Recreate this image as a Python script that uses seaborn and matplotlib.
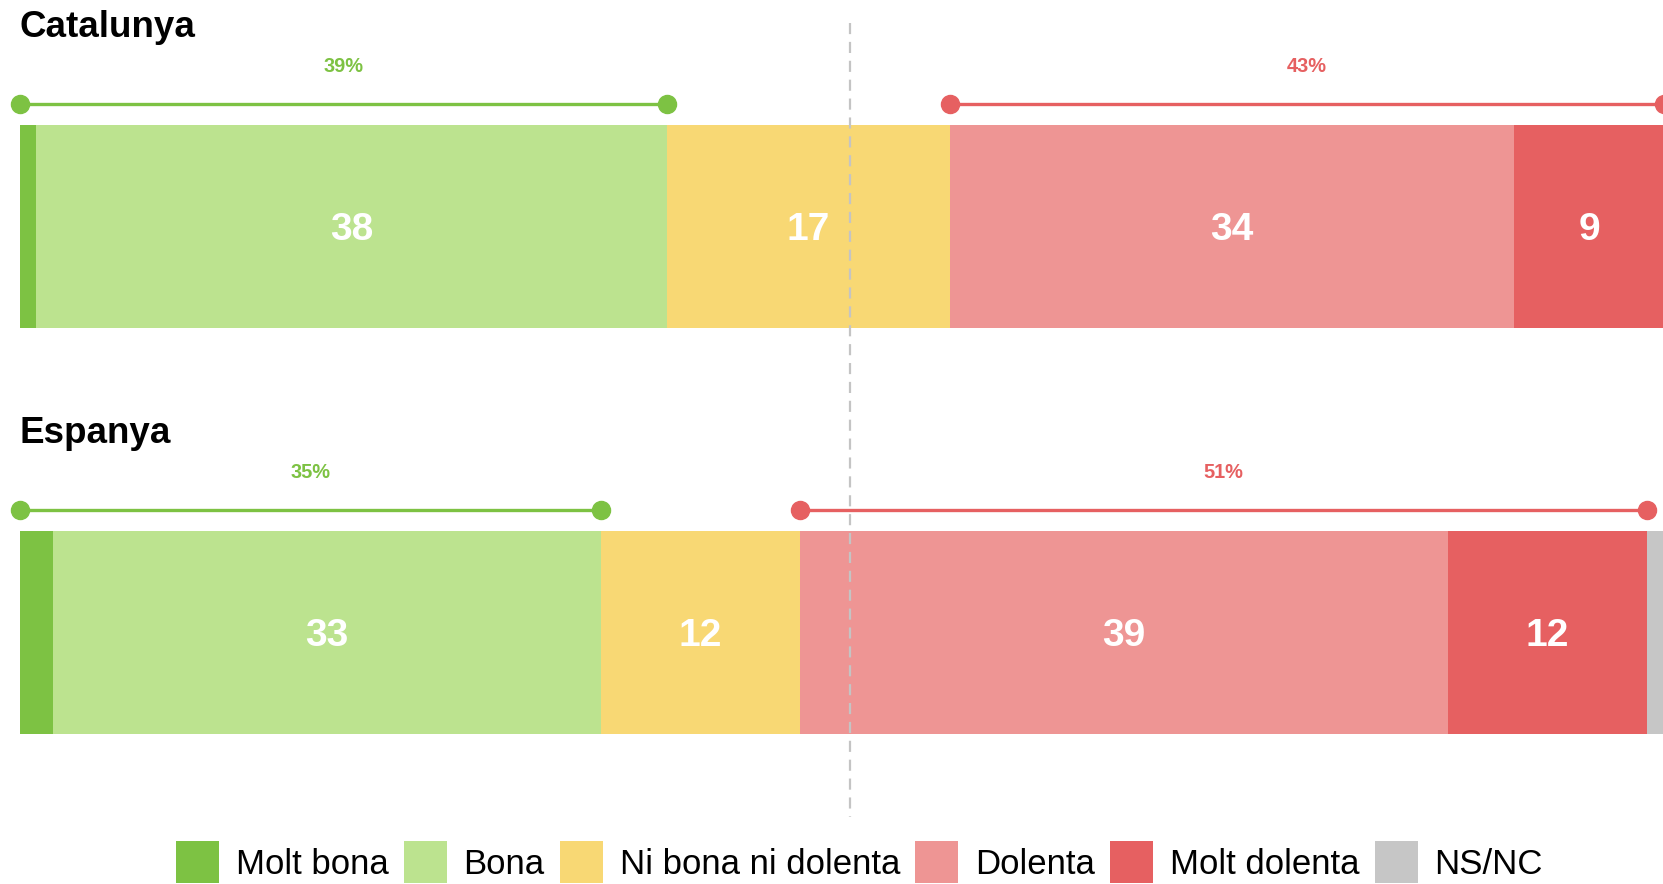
import matplotlib
matplotlib.use("Agg")
import numpy as np
import pandas as pd
import matplotlib.pyplot as plt
import seaborn as sns
from matplotlib.patches import Patch

# ---------------- data ----------------
countries = ["Catalunya", "Espanya"]
categories = ["Molt bona", "Bona", "Ni bona ni dolenta", "Dolenta", "Molt dolenta", "NS/NC"]
molt_bona = [1, 2]
bona = [38, 33]
ni_bona_ni_dolenta = [17, 12]
dolenta = [34, 39]
molt_dolenta = [9, 12]
ns_nc = [1, 2]

colors = ["#7DC243", "#BCE38F", "#F8D874", "#EE9594", "#E66061", "#C6C6C6"]
good_color = "#7DC243"
bad_color = "#E66061"

values = np.array([molt_bona, bona, ni_bona_ni_dolenta, dolenta, molt_dolenta, ns_nc])
cum = np.cumsum(values, axis=0)
starts = cum - values

# ---------------- figure ----------------
sns.set_theme(style="white")
plt.rcParams["font.family"] = ["Liberation Sans", "DejaVu Sans"]
plt.rcParams["text.color"] = "black"

W, H = 1663, 884
fig = plt.figure(figsize=(W / 100, H / 100), dpi=100)
fig.patch.set_facecolor("white")

PX_PER_UNIT_X = 16.61
X0 = 19.5
ax = fig.add_axes([X0 / W, 0, 100 * PX_PER_UNIT_X / W, 1])

# stacked horizontal bars: draw cumulative totals from largest to smallest
for i in reversed(range(len(categories))):
    df = pd.DataFrame({"country": countries, "value": cum[i]})
    sns.barplot(data=df, x="value", y="country", order=countries, orient="h",
                color=colors[i], saturation=1, width=0.5, linewidth=0,
                errorbar=None, ax=ax)

# vertical pixel mapping: 406 px per category step, first bar centre at px 226.5
PY = 406.0
top = -226.5 / PY
bottom = (H - 226.5) / PY
ax.set_xlim(0, 100)
ax.set_ylim(bottom, top)
ax.axis("off")

# segment labels
LABEL_FS = 28
fs_px = LABEL_FS * 100 / 72
for j in range(len(countries)):
    for i in range(len(categories) - 1):
        v = values[i, j]
        if v >= 3:
            ax.text(starts[i, j] + v / 2, j + 0.358 * fs_px / PY, f"{v}",
                    ha="center", va="baseline",
                    color="white", fontsize=LABEL_FS, fontweight="bold", zorder=4)

# 50% reference line (drawn above the bars)
ax.plot([50, 50], [-203.5 / PY, 1 + 184.5 / PY], color="#C4C4C4", lw=1.6,
        ls=(0, (5, 3.5)), zorder=3)

# summary brackets and titles
for j, name in enumerate(countries):
    good = int(values[0, j] + values[1, j])
    bad_start = cum[2, j]
    bad_end = cum[4, j]
    bad = int(values[3, j] + values[4, j])
    yl = j - 122.2 / PY
    ax.plot([0, good], [yl, yl], color=good_color, lw=2.4, marker="o",
            markersize=13, solid_capstyle="butt", clip_on=False, zorder=5)
    ax.plot([bad_start, bad_end], [yl, yl], color=bad_color, lw=2.4, marker="o",
            markersize=13, solid_capstyle="butt", clip_on=False, zorder=5)
    yt = j - 154.8 / PY
    ax.text(good / 2, yt, f"{good}%", ha="center", va="baseline",
            color=good_color, fontsize=14.4, fontweight="bold")
    ax.text((bad_start + bad_end) / 2, yt, f"{bad}%", ha="center", va="baseline",
            color=bad_color, fontsize=14.4, fontweight="bold")
    ax.text(0, j - 189.5 / PY, name, ha="left", va="baseline",
            color="black", fontsize=26.5, fontweight="bold")

# legend
handles = [Patch(facecolor=c, edgecolor="none", label=l) for c, l in zip(colors, categories)]
leg = fig.legend(handles=handles, loc="upper center", bbox_to_anchor=(859.5 / W, 1 - 841 / H),
                 ncol=6, frameon=False, fontsize=25, handlelength=1.24, handleheight=1.5,
                 handletextpad=0.48, columnspacing=0.44, borderpad=0, borderaxespad=0)
for t in leg.get_texts():
    t.set_color("black")

fig.savefig("out.png", dpi=100, facecolor="white")
